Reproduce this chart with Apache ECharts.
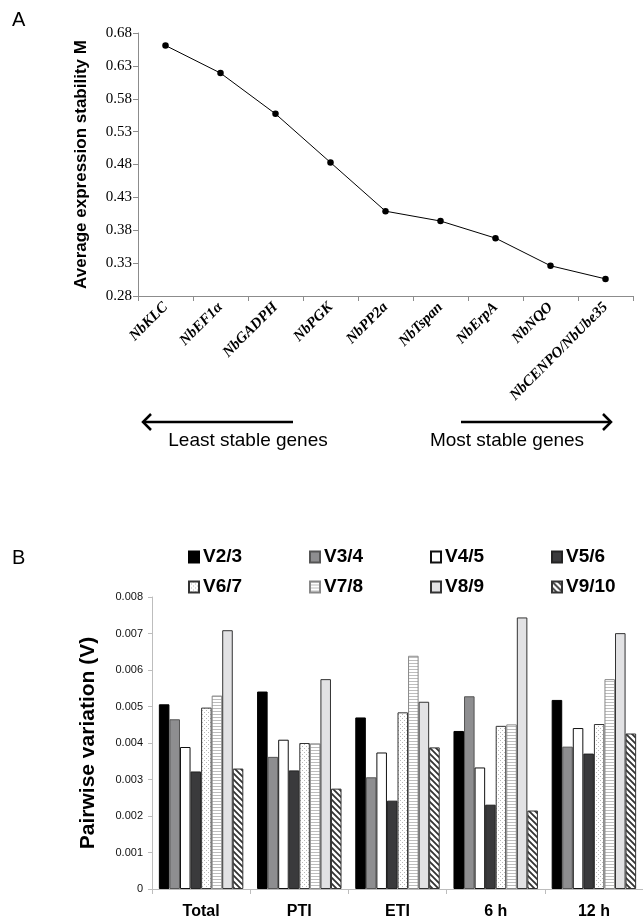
<!DOCTYPE html>
<html>
<head>
<meta charset="utf-8">
<script src="https://cdn.jsdelivr.net/npm/echarts@6/dist/echarts.min.js"></script>
<style>
html,body{margin:0;padding:0;background:#fff;}
#chart{width:643px;height:921px;}
</style>
</head>
<body>
<div id="chart"></div>
<script>
// Panel A data
const genes = ['NbKLC','NbEF1α','NbGADPH','NbPGK','NbPP2a','NbTspan','NbErpA','NbNQO','NbCENPO/NbUbe35'];
const stabilityM = [0.661, 0.619, 0.557, 0.483, 0.409, 0.394, 0.368, 0.326, 0.306];
const yTicksA = {min: 0.28, max: 0.68, step: 0.05};

// Panel B data
const groups = ['Total','PTI','ETI','6 h','12 h'];
const pairNames = ['V2/3','V3/4','V4/5','V5/6','V6/7','V7/8','V8/9','V9/10'];
const v23  = [0.00506, 0.00541, 0.00470, 0.00433, 0.00518];
const v34  = [0.00465, 0.00362, 0.00306, 0.00528, 0.00390];
const v45  = [0.00389, 0.00409, 0.00374, 0.00333, 0.00441];
const v56  = [0.00322, 0.00325, 0.00242, 0.00231, 0.00371];
const v67  = [0.00497, 0.00400, 0.00484, 0.00447, 0.00452];
const v78  = [0.00530, 0.00399, 0.00639, 0.00451, 0.00575];
const v89  = [0.00709, 0.00575, 0.00513, 0.00744, 0.00701];
const v910 = [0.00330, 0.00275, 0.00388, 0.00215, 0.00426];
const yTicksB = {min: 0, max: 0.008, step: 0.001};

function makePattern(w, h, draw) {
  const c = document.createElement('canvas');
  c.width = w; c.height = h;
  const ctx = c.getContext('2d');
  ctx.fillStyle = '#fff';
  ctx.fillRect(0, 0, w, h);
  draw(ctx);
  return {image: c, repeat: 'repeat'};
}
const dotPattern = makePattern(4, 4, ctx => {
  ctx.fillStyle = '#b8b8b8';
  ctx.fillRect(0, 0, 1, 1);
  ctx.fillRect(2, 2, 1, 1);
});
const hLinePattern = makePattern(4, 3, ctx => {
  ctx.fillStyle = '#bdbdbd';
  ctx.fillRect(0, 0, 4, 1);
});
const diagPattern = makePattern(6, 6, ctx => {
  ctx.strokeStyle = '#333';
  ctx.lineWidth = 1.8;
  ctx.beginPath();
  ctx.moveTo(-1, -1); ctx.lineTo(7, 7);
  ctx.moveTo(-1, 5); ctx.lineTo(1, 7);
  ctx.moveTo(5, -1); ctx.lineTo(7, 1);
  ctx.stroke();
});

const pairData = [v23, v34, v45, v56, v67, v78, v89, v910];
const pairStyles = [
  {color: '#000', borderColor: '#000'},
  {color: '#8e8e90', borderColor: '#555'},
  {color: '#fff', borderColor: '#111'},
  {color: '#3a3a3c', borderColor: '#222'},
  {color: dotPattern, borderColor: '#333'},
  {color: hLinePattern, borderColor: '#888'},
  {color: '#e2e2e4', borderColor: '#333'},
  {color: diagPattern, borderColor: '#333'}
];

const legendLefts = [188, 309, 430, 551];
const legendTops = [547, 577];

const chart = echarts.init(document.getElementById('chart'), null, {renderer: 'canvas'});

const barSeries = pairNames.map((n, i) => ({
  name: n,
  type: 'bar',
  xAxisIndex: 1,
  yAxisIndex: 1,
  barGap: '0%',
  barCategoryGap: '14%',
  data: pairData[i],
  itemStyle: Object.assign({borderWidth: 1}, pairStyles[i]),
  emphasis: {disabled: true}
}));

const legends = pairNames.map((n, i) => ({
  data: [n],
  left: legendLefts[i % 4],
  top: legendTops[Math.floor(i / 4)],
  padding: 0,
  itemWidth: 10,
  itemHeight: 11,
  icon: 'rect',
  selectedMode: false,
  textStyle: {fontFamily: 'Liberation Sans', fontWeight: 'bold', fontSize: 19, lineHeight: 20, color: '#000', padding: [0, 0, 0, -1]}
}));

const option = {
  animation: false,
  backgroundColor: '#fff',
  legend: legends,
  grid: [
    {left: 138, top: 33, width: 495, height: 263},
    {left: 152, top: 597, width: 501, height: 292}
  ],
  xAxis: [
    {
      type: 'category', gridIndex: 0, data: genes, boundaryGap: true,
      axisLine: {lineStyle: {color: '#8c8c8c', width: 1}},
      axisTick: {show: true, length: 5, lineStyle: {color: '#8c8c8c'}},
      axisLabel: {interval: 0, rotate: 45, margin: 9, color: '#000', fontFamily: 'Liberation Serif', fontStyle: 'italic', fontWeight: 'bold', fontSize: 15},
      splitLine: {show: false}
    },
    {
      type: 'category', gridIndex: 1, data: groups, boundaryGap: true,
      axisLine: {lineStyle: {color: '#bdbdbd', width: 1}},
      axisTick: {show: true, length: 5, lineStyle: {color: '#bdbdbd'}},
      axisLabel: {interval: 0, margin: 15, color: '#000', fontFamily: 'Liberation Sans', fontWeight: 'bold', fontSize: 16},
      splitLine: {show: false}
    }
  ],
  yAxis: [
    {
      type: 'value', gridIndex: 0, min: yTicksA.min, max: yTicksA.max, interval: yTicksA.step,
      name: 'Average expression stability M', nameLocation: 'middle', nameGap: 48,
      nameTextStyle: {fontFamily: 'Liberation Sans', fontWeight: 'bold', fontSize: 17, color: '#000'},
      axisLine: {show: true, lineStyle: {color: '#8c8c8c', width: 1}},
      axisTick: {show: true, length: 5, lineStyle: {color: '#8c8c8c'}},
      axisLabel: {margin: 6, color: '#000', fontFamily: 'Liberation Serif', fontSize: 15, formatter: v => v.toFixed(2)},
      splitLine: {show: false}
    },
    {
      type: 'value', gridIndex: 1, min: yTicksB.min, max: yTicksB.max, interval: yTicksB.step,
      name: 'Pairwise variation (V)', nameLocation: 'middle', nameGap: 53,
      nameTextStyle: {fontFamily: 'Liberation Sans', fontWeight: 'bold', fontSize: 21, color: '#000'},
      axisLine: {show: true, lineStyle: {color: '#bdbdbd', width: 1}},
      axisTick: {show: true, length: 4, lineStyle: {color: '#bdbdbd'}},
      axisLabel: {margin: 9, color: '#111', fontFamily: 'Liberation Sans', fontSize: 11, formatter: v => (v === 0 ? '0' : v.toFixed(3))},
      splitLine: {show: false}
    }
  ],
  series: [
    {
      type: 'line', xAxisIndex: 0, yAxisIndex: 0, data: stabilityM,
      symbol: 'circle', symbolSize: 6.5,
      itemStyle: {color: '#000'},
      lineStyle: {color: '#000', width: 1},
      emphasis: {disabled: true}
    }
  ].concat(barSeries),
  graphic: [
    {type: 'text', left: 12, top: 10, style: {text: 'A', fontFamily: 'Liberation Sans', fontSize: 20, fill: '#000'}},
    {type: 'text', left: 12, top: 548, style: {text: 'B', fontFamily: 'Liberation Sans', fontSize: 20, fill: '#000'}},
    {type: 'line', shape: {x1: 143, y1: 422, x2: 293, y2: 422}, style: {stroke: '#000', lineWidth: 2.5}},
    {type: 'polyline', shape: {points: [[151, 414], [143, 422], [151, 430]]}, style: {stroke: '#000', lineWidth: 2.5, fill: null}},
    {type: 'line', shape: {x1: 461, y1: 422, x2: 611, y2: 422}, style: {stroke: '#000', lineWidth: 2.5}},
    {type: 'polyline', shape: {points: [[603, 414], [611, 422], [603, 430]]}, style: {stroke: '#000', lineWidth: 2.5, fill: null}},
    {type: 'text', x: 248, y: 441, style: {text: 'Least stable genes', fontFamily: 'Liberation Sans', fontSize: 19, fill: '#000', textAlign: 'center', textVerticalAlign: 'middle'}},
    {type: 'text', x: 507, y: 441, style: {text: 'Most stable genes', fontFamily: 'Liberation Sans', fontSize: 19, fill: '#000', textAlign: 'center', textVerticalAlign: 'middle'}}
  ]
};
chart.setOption(option);
</script>
</body>
</html>
